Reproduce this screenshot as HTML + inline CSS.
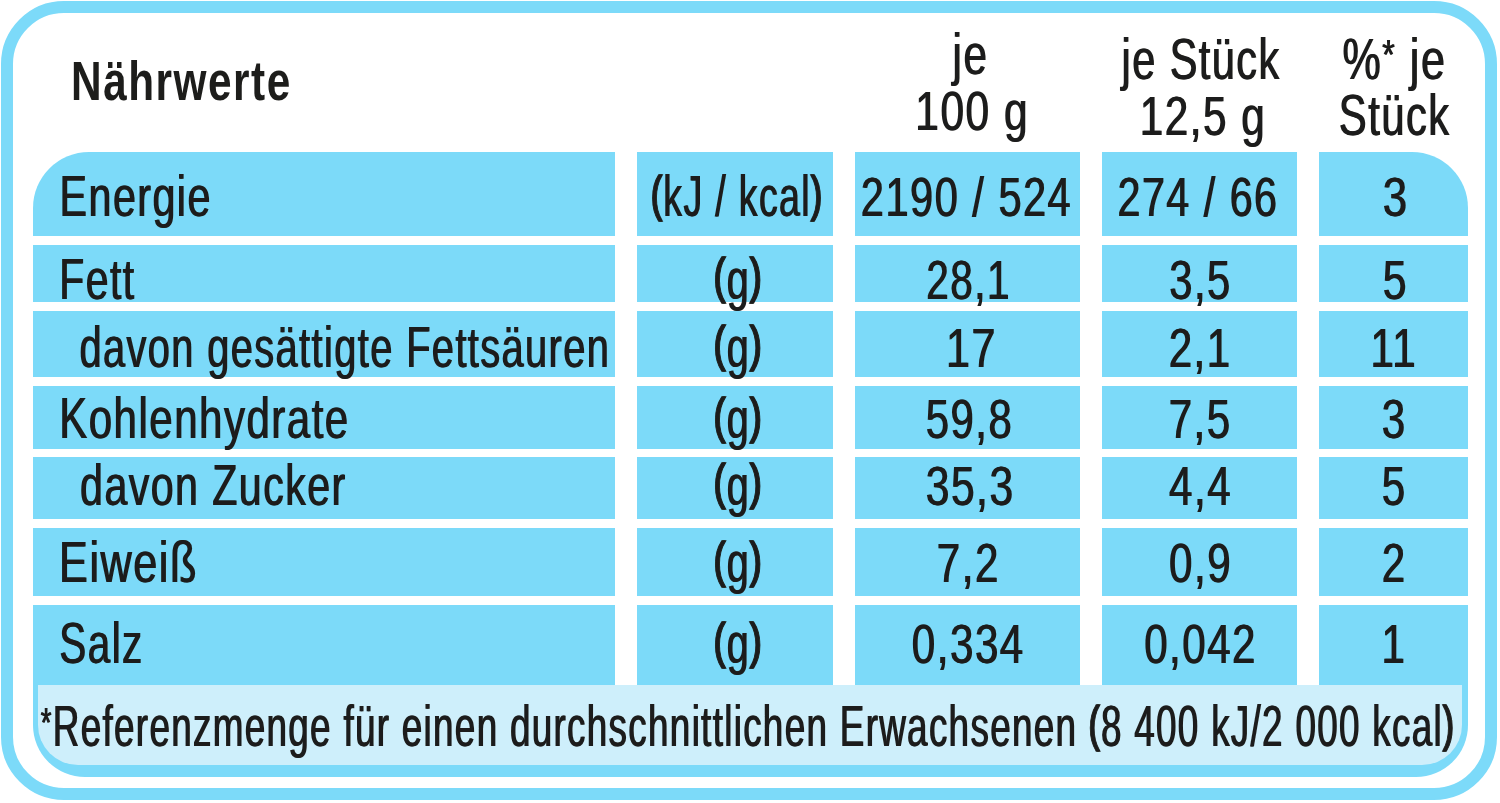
<!DOCTYPE html>
<html lang="de"><head><meta charset="utf-8"><title>Nährwerte</title>
<style>
html,body{margin:0;padding:0;background:#fff;}
body{width:1500px;height:803px;position:relative;overflow:hidden;}
.f div{position:absolute;}
svg{position:absolute;left:0;top:0;}
svg text{font-family:"Liberation Sans",Arial,sans-serif;font-size:56.8px;fill:#1d1d1b;letter-spacing:2.0px;}
svg text[font-weight]{font-size:56.3px;}
</style></head><body>
<div class="f">
<div style="left:1px;top:1px;width:1496px;height:799px;border:12px solid #7cdaf9;border-bottom-width:12px;border-radius:63px;box-sizing:border-box"></div>
<div style="left:32.5px;top:152px;width:1435.5px;height:624.5px;background:#7cdaf9;border-radius:56px 56px 52px 52px"></div>
<div style="left:614.6px;top:150px;width:22.1px;height:535.3px;background:#fff;"></div>
<div style="left:832.6px;top:150px;width:22.4px;height:535.3px;background:#fff;"></div>
<div style="left:1080.4px;top:150px;width:21.9px;height:535.3px;background:#fff;"></div>
<div style="left:1296.9px;top:150px;width:22.2px;height:535.3px;background:#fff;"></div>
<div style="left:30.5px;top:236px;width:1439.5px;height:8.5px;background:#fff;"></div>
<div style="left:30.5px;top:302px;width:1439.5px;height:8.7px;background:#fff;"></div>
<div style="left:30.5px;top:377.4px;width:1439.5px;height:8.5px;background:#fff;"></div>
<div style="left:30.5px;top:448.7px;width:1439.5px;height:8.4px;background:#fff;"></div>
<div style="left:30.5px;top:519.4px;width:1439.5px;height:8.3px;background:#fff;"></div>
<div style="left:30.5px;top:596.4px;width:1439.5px;height:8.7px;background:#fff;"></div>
<div style="left:37.7px;top:685.3px;width:1424.8px;height:80.0px;background:#ceeffb;border-radius:0 0 40px 40px"></div>
</div>
<svg width="1500" height="803" viewBox="0 0 1500 803">
<defs><filter id="w" filterUnits="userSpaceOnUse" x="0" y="0" width="1500" height="803"><feOffset in="SourceGraphic" dx="1" dy="0" result="o"/><feMerge><feMergeNode in="SourceGraphic"/><feMergeNode in="o"/></feMerge></filter></defs>
<text transform="matrix(0.7523 0 0 1 71.09 99.60)" font-weight="bold">Nährwerte</text>
<g filter="url(#w)">
<text transform="matrix(0.7422 0 0 1 952.04 73.70)">je</text>
<text transform="matrix(0.7607 0 0 1 914.86 130.30)" style="font-size:55.8px">100 g</text>
<text transform="matrix(0.7304 0 0 1 1121.03 78.70)">je Stück</text>
<text transform="matrix(0.7573 0 0 1 1139.17 134.60)" style="font-size:55.8px">12,5 g</text>
<text transform="matrix(0.7580 0 0 1 1342.08 78.70)"><tspan>%</tspan><tspan font-size="42.3" dy="-9.60">*</tspan><tspan dy="9.60"> je</tspan></text>
<text transform="matrix(0.7361 0 0 1 1338.29 134.60)">Stück</text>
<text transform="matrix(0.7260 0 0 1 59.07 216.10)">Energie</text>
<text transform="matrix(0.7204 0 0 1 58.80 298.50)">Fett</text>
<text transform="matrix(0.7003 0 0 1 79.00 366.70)">davon gesättigte Fettsäuren</text>
<text transform="matrix(0.7405 0 0 1 58.70 438.00)">Kohlenhydrate</text>
<text transform="matrix(0.7245 0 0 1 79.55 504.50)">davon Zucker</text>
<text transform="matrix(0.7607 0 0 1 58.60 582.00)">Eiweiß</text>
<text transform="matrix(0.7117 0 0 1 58.86 663.00)">Salz</text>
<text transform="matrix(0.6621 0 0 1 650.41 215.80)"><tspan font-size="50.0" stroke="#1d1d1b" stroke-width="1.3" dy="-5.30">(</tspan><tspan dy="5.30">kJ / kcal</tspan><tspan font-size="50.0" stroke="#1d1d1b" stroke-width="1.3" dy="-5.30">)</tspan></text>
<text transform="matrix(0.7451 0 0 1 860.36 216.30)" style="font-size:55.8px">2190 / 524</text>
<text transform="matrix(0.7400 0 0 1 1116.98 216.30)" style="font-size:55.8px">274 / 66</text>
<text transform="matrix(0.7852 0 0 1 1382.13 216.30)" style="font-size:55.8px">3</text>
<text transform="matrix(0.6968 0 0 1 713.21 298.50)"><tspan font-size="50.0" stroke="#1d1d1b" stroke-width="1.3" dy="-5.30">(</tspan><tspan dy="5.30">g</tspan><tspan font-size="50.0" stroke="#1d1d1b" stroke-width="1.3" dy="-5.30">)</tspan></text>
<text transform="matrix(0.7248 0 0 1 925.83 298.50)" style="font-size:55.8px">28,1</text>
<text transform="matrix(0.7468 0 0 1 1168.81 298.50)" style="font-size:55.8px">3,5</text>
<text transform="matrix(0.7667 0 0 1 1382.17 298.50)" style="font-size:55.8px">5</text>
<text transform="matrix(0.6968 0 0 1 713.21 366.70)"><tspan font-size="50.0" stroke="#1d1d1b" stroke-width="1.3" dy="-5.30">(</tspan><tspan dy="5.30">g</tspan><tspan font-size="50.0" stroke="#1d1d1b" stroke-width="1.3" dy="-5.30">)</tspan></text>
<text transform="matrix(0.7719 0 0 1 945.61 366.70)" style="font-size:55.8px">17</text>
<text transform="matrix(0.7547 0 0 1 1168.16 366.70)" style="font-size:55.8px">2,1</text>
<text transform="matrix(0.7547 0 0 1 1370.03 366.70)" style="font-size:55.8px">11</text>
<text transform="matrix(0.6968 0 0 1 713.21 438.00)"><tspan font-size="50.0" stroke="#1d1d1b" stroke-width="1.3" dy="-5.30">(</tspan><tspan dy="5.30">g</tspan><tspan font-size="50.0" stroke="#1d1d1b" stroke-width="1.3" dy="-5.30">)</tspan></text>
<text transform="matrix(0.7500 0 0 1 925.30 438.00)" style="font-size:55.8px">59,8</text>
<text transform="matrix(0.7547 0 0 1 1168.16 438.00)" style="font-size:55.8px">7,5</text>
<text transform="matrix(0.7547 0 0 1 1381.35 438.00)" style="font-size:55.8px">3</text>
<text transform="matrix(0.6968 0 0 1 713.21 504.50)"><tspan font-size="50.0" stroke="#1d1d1b" stroke-width="1.3" dy="-5.30">(</tspan><tspan dy="5.30">g</tspan><tspan font-size="50.0" stroke="#1d1d1b" stroke-width="1.3" dy="-5.30">)</tspan></text>
<text transform="matrix(0.7618 0 0 1 925.28 504.50)" style="font-size:55.8px">35,3</text>
<text transform="matrix(0.7547 0 0 1 1168.53 504.50)" style="font-size:55.8px">4,4</text>
<text transform="matrix(0.7547 0 0 1 1381.35 504.50)" style="font-size:55.8px">5</text>
<text transform="matrix(0.6968 0 0 1 713.21 582.00)"><tspan font-size="50.0" stroke="#1d1d1b" stroke-width="1.3" dy="-5.30">(</tspan><tspan dy="5.30">g</tspan><tspan font-size="50.0" stroke="#1d1d1b" stroke-width="1.3" dy="-5.30">)</tspan></text>
<text transform="matrix(0.7547 0 0 1 936.26 582.00)" style="font-size:55.8px">7,2</text>
<text transform="matrix(0.7547 0 0 1 1168.53 582.00)" style="font-size:55.8px">0,9</text>
<text transform="matrix(0.7547 0 0 1 1381.35 582.00)" style="font-size:55.8px">2</text>
<text transform="matrix(0.6968 0 0 1 713.21 663.00)"><tspan font-size="50.0" stroke="#1d1d1b" stroke-width="1.3" dy="-5.30">(</tspan><tspan dy="5.30">g</tspan><tspan font-size="50.0" stroke="#1d1d1b" stroke-width="1.3" dy="-5.30">)</tspan></text>
<text transform="matrix(0.7547 0 0 1 911.35 663.00)" style="font-size:55.8px">0,334</text>
<text transform="matrix(0.7547 0 0 1 1143.63 663.00)" style="font-size:55.8px">0,042</text>
<text transform="matrix(0.7547 0 0 1 1380.97 663.00)" style="font-size:55.8px">1</text>
<text transform="matrix(0.6489 0 0 1 40.35 746.30)"><tspan font-size="42.3" dy="-9.60">*</tspan><tspan dy="9.60">Referenzmenge für einen durchschnittlichen Erwachsenen </tspan><tspan font-size="50.0" stroke="#1d1d1b" stroke-width="1.3" dy="-5.30">(</tspan><tspan dy="5.30">8 400 kJ/2 000 kcal</tspan><tspan font-size="50.0" stroke="#1d1d1b" stroke-width="1.3" dy="-5.30">)</tspan></text>
</g>
</svg>
</body></html>
